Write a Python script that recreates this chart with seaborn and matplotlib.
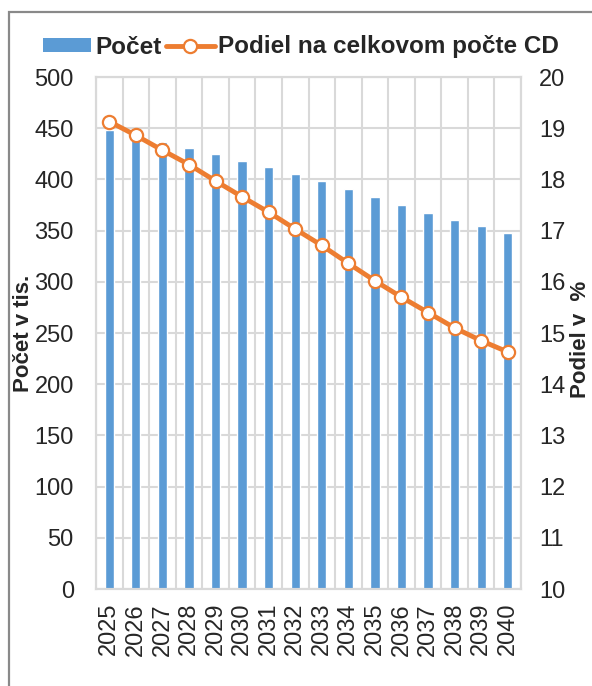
import numpy as np
import pandas as pd
import matplotlib
matplotlib.use('Agg')
import matplotlib.pyplot as plt
from matplotlib.patches import Rectangle, Patch
from matplotlib.lines import Line2D
import seaborn as sns

# data
years = [str(y) for y in range(2025, 2041)]
pocet = [448, 440, 437, 431, 424.5, 418, 412, 405, 398, 390.5, 383, 375, 367, 360, 354.5, 348]
podiel = [19.13, 18.86, 18.57, 18.29, 17.97, 17.66, 17.36, 17.03,
          16.71, 16.36, 16.02, 15.70, 15.40, 15.10, 14.85, 14.63]

BLUE = '#5B9BD5'
ORANGE = '#ED7D31'
GRID = '#D9D9D9'

sns.set_theme(style='white')
plt.rcParams['font.family'] = ['Liberation Sans', 'DejaVu Sans']

df = pd.DataFrame({'rok': years, 'pocet': pocet, 'podiel': podiel})

W, H = 592, 686
fig = plt.figure(figsize=(W / 100, H / 100), dpi=100)
ax = fig.add_axes([96 / W, 1 - 589 / H, (521 - 96) / W, (589 - 77) / H])

sns.barplot(data=df, x='rok', y='pocet', color=BLUE, saturation=1,
            width=0.35, ax=ax, zorder=2)
ax.set_ylim(0, 500)
ax.set_yticks(np.arange(0, 501, 50))
ax.set_xlim(-0.5, len(years) - 0.5)
ax.set_xticks(np.arange(-0.5, len(years), 1), minor=True)
ax.grid(axis='y', which='major', color=GRID, lw=1.5, zorder=0)
ax.grid(axis='x', which='minor', color=GRID, lw=1.5, zorder=0)
ax.set_axisbelow(True)
ax.set_xlabel('')
ax.set_ylabel('')
ax.tick_params(axis='x', which='both', length=0, pad=10, labelsize=17, rotation=90)
ax.tick_params(axis='y', length=0, pad=16, labelsize=17)
for s in ax.spines.values():
    s.set_color(GRID)
    s.set_linewidth(1.5)

ax2 = ax.twinx()
sns.pointplot(data=df, x='rok', y='podiel', color=ORANGE, ax=ax2,
              markers='o', linewidth=3.5, markersize=9.5,
              markerfacecolor='white', markeredgecolor=ORANGE,
              markeredgewidth=1.6)
ax2.set_ylim(10, 20)
ax2.set_yticks(np.arange(10, 21, 1))
ax2.set_xlim(-0.5, len(years) - 0.5)
ax2.set_ylabel('')
ax2.set_xlabel('')
ax2.tick_params(axis='y', length=0, pad=13, labelsize=17)
for s in ax2.spines.values():
    s.set_color(GRID)
    s.set_linewidth(1.5)

fig.text(24 / W, 1 - 333 / H, 'Počet v tis.', rotation=90, ha='center',
         va='center', fontsize=16, fontweight='bold')
fig.text(580 / W, 1 - 339 / H, 'Podiel v  %', rotation=90, ha='center',
         va='center', fontsize=16, fontweight='bold')

handles = [Patch(facecolor=BLUE, edgecolor='none'),
           Line2D([], [], color=ORANGE, lw=3.5, marker='o', markersize=9.5,
                  markerfacecolor='white', markeredgecolor=ORANGE,
                  markeredgewidth=1.6)]
fig.legend(handles, ['Počet', 'Podiel na celkovom počte CD'], ncol=2,
           loc='center', bbox_to_anchor=(301 / W, 1 - 47 / H), frameon=False,
           prop={'size': 17.5, 'weight': 'bold'}, handlelength=2.0,
           handleheight=0.5, handletextpad=0.15, columnspacing=0.2,
           borderaxespad=0, borderpad=0)

# chart frame (cut off at the right and bottom)
fig.add_artist(Rectangle((8.5 / W, -0.1), 1.2, 1.1 - 12.5 / H,
                         transform=fig.transFigure, fill=False,
                         edgecolor='#898989', lw=1.6))

fig.savefig('out.png', dpi=100)
